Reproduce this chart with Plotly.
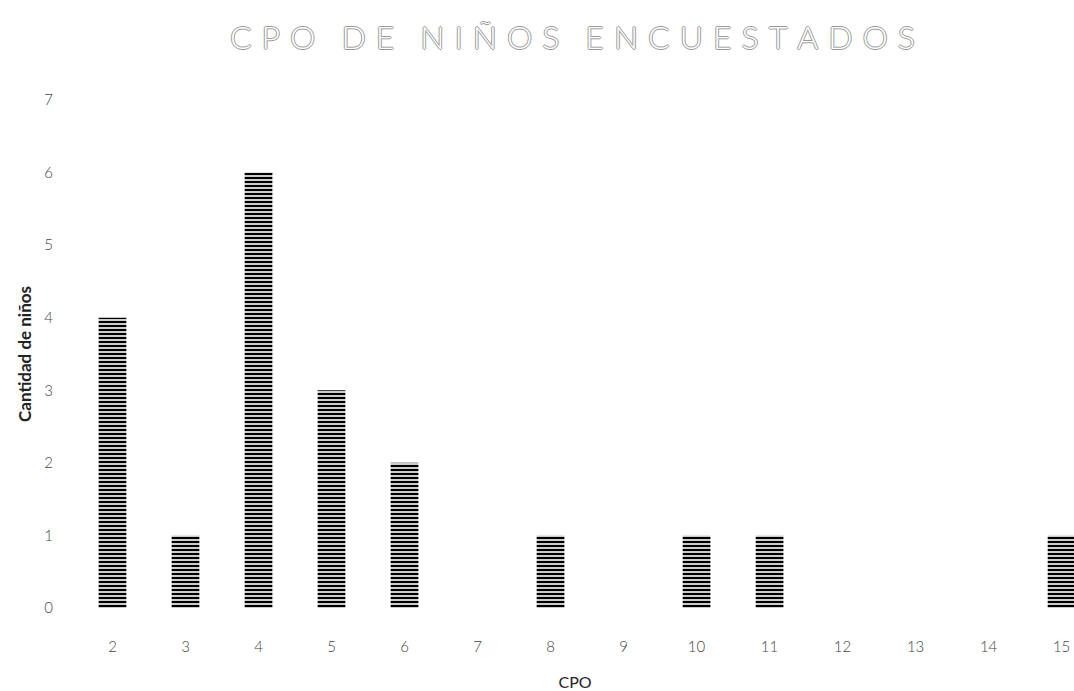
import plotly.graph_objects as go

# CPO values recorded and number of children for each value
cpo = ["2", "3", "4", "5", "6", "7", "8", "9", "10", "11", "12", "13", "14", "15"]
ninos = [4, 1, 6, 3, 2, 0, 1, 0, 1, 1, 0, 0, 0, 1]

y_ticks = [0, 1, 2, 3, 4, 5, 6, 7]

FONT = "Lato, 'Open Sans', sans-serif"

fig = go.Figure(
    go.Bar(
        x=cpo,
        y=ninos,
        width=0.38,
        marker=dict(
            color="white",
            line=dict(width=0),
            pattern=dict(shape="-", fgcolor="black", bgcolor="white",
                         fgopacity=1, size=4, solidity=0.6),
        ),
        showlegend=False,
    )
)

# hollow, widely spaced title letters (white fill with a grey outline)
words = "CPO DE NIÑOS ENCUESTADOS".split(" ")
title_text = "\u2003\u200a".join("\u2005\u200a".join(w) for w in words)

fig.update_layout(
    width=1074,
    height=691,
    autosize=False,
    margin=dict(l=76, r=0, t=100, b=83),
    paper_bgcolor="white",
    plot_bgcolor="white",
    font=dict(family=FONT, color="#444"),
    title=dict(
        text=title_text,
        x=0.533,
        xanchor="center",
        y=0.945,
        yanchor="middle",
        font=dict(
            family=FONT, size=32, color="white", weight=300,
            shadow="1px 0 0 #999, -1px 0 0 #999, 0 1px 0 #999, 0 -1px 0 #999",
        ),
    ),
    bargap=0.62,
)

fig.update_xaxes(
    type="category",
    range=[-0.5, 13.17],
    showgrid=False,
    showline=False,
    zeroline=False,
    ticks="",
    ticklabelstandoff=28,
    tickfont=dict(size=15, color="#444", weight=300),
    title=dict(text="CPO", font=dict(size=16, color="#222"), standoff=22),
)

fig.update_yaxes(
    range=[0, 7],
    tickvals=y_ticks,
    showgrid=False,
    showline=False,
    zeroline=False,
    ticks="",
    ticklabelstandoff=22,
    tickfont=dict(size=15, color="#444", weight=300),
    title=dict(text="<b>Cantidad de niños</b>", font=dict(size=17, color="#222"), standoff=8),
)

fig.write_html("out.html")
